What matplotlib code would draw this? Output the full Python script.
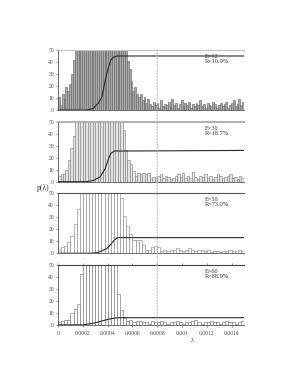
import numpy as np
import matplotlib
matplotlib.use('Agg')
import matplotlib.pyplot as plt
from matplotlib.patches import ConnectionPatch

plt.rcParams['font.family'] = ['Liberation Serif', 'DejaVu Serif']

### Data
# panel 1 (E=12): bin width 0.000015
width_1 = 0.000015
counts_1 = [11, 4, 13, 9, 19, 16, 22, 30, 42,
            70, 85, 90, 95, 88, 100, 92, 105, 98, 110, 95, 102, 99, 108, 96, 104, 93, 100, 90, 96,
            85, 88, 80, 78, 72, 66, 60, 55,
            41, 34, 24, 16, 19, 13, 11, 13, 8, 11, 6, 9,
            5, 3, 7, 4, 6, 2, 8, 3, 5, 4, 7, 3, 9, 4, 6, 2, 5, 8, 3, 6,
            4, 7, 2, 5, 3, 6, 4, 8, 3, 5, 2, 6, 4, 3, 7, 5, 2, 4, 6, 3,
            5, 7, 2, 4, 6, 8, 3, 5, 9, 4, 7]
cum_x_1 = [0, 0.000232, 0.000286, 0.000327, 0.000354, 0.000381, 0.000394, 0.000408, 0.000427, 0.000448, 0.00048, 0.0015]
cum_y_1 = [0, 0, 1.5, 6, 11, 25, 30.5, 36, 41.7, 44, 45, 45]

# panel 2 (E=30): bin width 0.00002
width_2 = 0.00002
counts_2 = [5, 6, 6, 10, 18, 28, 38,
            60, 75, 85, 95, 90, 100, 95, 105, 98, 100, 92, 96, 88, 85, 80, 75, 70, 62, 55,
            43, 26, 18, 15, 9, 5,
            7, 6, 7, 6, 7, 3, 4, 3, 5, 6, 3, 5, 4, 2, 3, 5, 6, 4, 7, 3,
            5, 3, 8, 4, 2, 5, 4, 6, 3, 5, 2, 4, 6, 5, 3, 4, 5, 6, 3, 4, 2, 5, 3]
cum_x_2 = [0, 0.000232, 0.000286, 0.00034, 0.000381, 0.000408, 0.000427, 0.000454, 0.00053, 0.0015]
cum_y_2 = [0, 0, 1, 4, 11, 19.5, 23.6, 25.5, 25.5, 26]

# panel 3 (E=50): bin width 0.000025
width_3 = 0.000025
counts_3 = [3, 5, 6, 9, 14, 24, 37,
            60, 70, 80, 90, 95, 100, 98, 96, 92, 88, 80, 70, 60,
            46, 31, 23, 16, 11, 11, 11, 7, 3, 3, 5, 6, 5,
            2, 3, 2, 3, 3, 4, 3, 2, 3, 4, 3, 2, 3, 3, 2, 3, 1, 2, 2, 1, 2, 2, 3, 2, 2, 3, 2]
cum_x_3 = [0, 0.00026, 0.000313, 0.000354, 0.000394, 0.000427, 0.000454, 0.00048, 0.0015]
cum_y_3 = [0, 0, 0.5, 2, 4, 7.5, 11, 13, 13]

# panel 4 (E=60): bin width 0.000025
width_4 = 0.000025
counts_4 = [2, 3, 4, 4, 10, 13, 17, 42,
            60, 75, 85, 90, 95, 92, 88, 80, 75, 65, 55,
            26, 12, 6,
            3, 4, 2, 3, 3, 2, 2, 1, 3, 2, 2, 3, 2, 1, 2, 2, 3, 2, 1, 2,
            2, 3, 4, 2, 1, 2, 2, 3, 2, 2, 1, 2, 3, 2, 2, 1, 2, 3]
cum_x_4 = [0, 0.0002, 0.00026, 0.000313, 0.000367, 0.000421, 0.00047, 0.0005, 0.0015]
cum_y_4 = [0, 0, 1, 2, 3.6, 5, 5.8, 6, 6]

labels = ['E=12\nR=10.9%', 'E=30\nR=18.7%', 'E=50\nR=73.0%', 'E=60\nR=88.9%']
xtick_vals = [0, 0.0002, 0.0004, 0.0006, 0.0008, 0.001, 0.0012, 0.0014]
xtick_labels = ['0', '0.0002', '0.0004', '0.0006', '0.0008', '0.001', '0.0012', '0.0014']
ytick_vals = [0, 10, 20, 30, 40, 50]

### Styles per panel
face = ['#a9a9a9', '#e2e2e2', 'white', 'white']
edge = ['#6c6c6c', '#8a8a8a', '#8c8c8c', '#777777']
topc = ['#c4c4c4', '#aaaaaa', '#555555', '#444444']
topw = [0.8, 1.3, 0.8, 0.8]

fig = plt.figure(figsize=(2.86, 3.73), dpi=100)
bottoms = [0.705, 0.513, 0.321, 0.129]
axes = [fig.add_axes([0.203, b, 0.650, 0.161]) for b in bottoms]

data = [(width_1, counts_1, cum_x_1, cum_y_1),
        (width_2, counts_2, cum_x_2, cum_y_2),
        (width_3, counts_3, cum_x_3, cum_y_3),
        (width_4, counts_4, cum_x_4, cum_y_4)]

for k, (ax, (w, counts, cx, cy)) in enumerate(zip(axes, data)):
    left = np.arange(len(counts)) * w
    ax.bar(left, counts, width=w, align='edge', color=face[k], edgecolor=edge[k], linewidth=0.45, zorder=2)
    ax.plot(cx, cy, color='#2a2a2a', linewidth=0.8, zorder=3)
    ax.set_xlim(0, 0.0015)
    ax.set_ylim(0, 50)
    ax.spines['right'].set_visible(False)
    ax.spines['top'].set_color(topc[k])
    ax.spines['top'].set_linewidth(topw[k])
    ax.spines['left'].set_color('#555555')
    ax.spines['left'].set_linewidth(0.6)
    ax.spines['bottom'].set_color('#555555')
    ax.spines['bottom'].set_linewidth(0.6)
    ax.set_yticks(ytick_vals)
    ax.tick_params(axis='y', labelsize=4, length=1.5, width=0.4, pad=1.5, colors='#444444')
    ax.set_xticks(xtick_vals)
    if k < 3:
        ax.tick_params(axis='x', length=0, labelbottom=False)
    else:
        ax.set_xticklabels(xtick_labels)
        ax.tick_params(axis='x', labelsize=4, length=1.5, width=0.4, pad=3, colors='#444444', top=True)
    ax.text(0.79, 0.93, labels[k], transform=ax.transAxes, fontsize=4.5, va='top', ha='left',
            linespacing=1.0, color='#333333')

### dotted reference line through all panels
con = ConnectionPatch(xyA=(0.0008, 50), coordsA=axes[0].transData,
                      xyB=(0.0008, 0), coordsB=axes[3].transData,
                      color='#bbbbbb', linewidth=0.8, linestyle=':', zorder=5)
fig.add_artist(con)

fig.text(0.15, 0.496, 'p(λ)', fontsize=5.5, ha='center', va='center', color='#333333')
fig.text(0.672, 0.088, 'λ', fontsize=5, ha='center', va='center', color='#333333')

fig.savefig('out.png', dpi=100, facecolor='white')
